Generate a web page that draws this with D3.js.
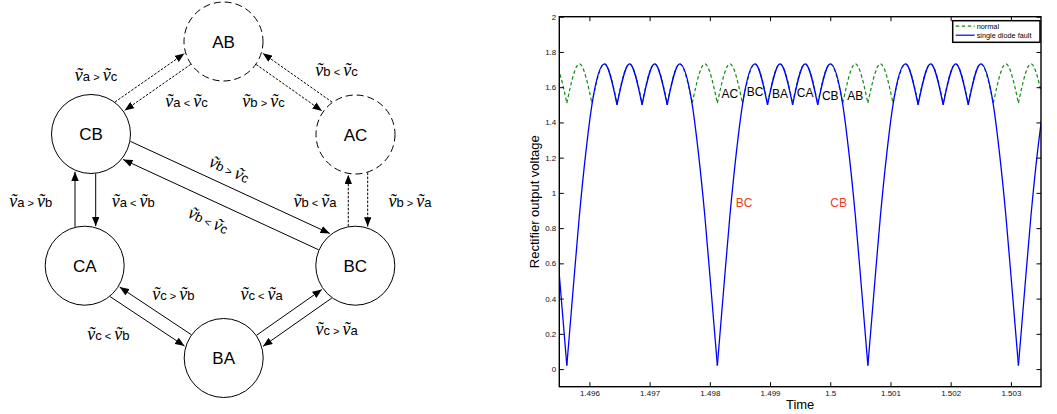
<!DOCTYPE html>
<html>
<head>
<meta charset="utf-8">
<script src="https://cdn.jsdelivr.net/npm/d3@7/dist/d3.min.js"></script>
<style>
	body { margin: 0; background: #fff; }
	text { font-family: 'Liberation Sans', Arial, sans-serif; }
</style>
</head>
<body>
<svg id="fig" width="1057" height="414"></svg>
<script>
// ---- state diagram data ----
const states = [ 'AB', 'CB', 'AC', 'CA', 'BC', 'BA' ],
	dashedStates = [ 'AB', 'AC' ],
	transitions = [
		[ 'CB', 'AB', [ 'a', '>', 'c' ] ],
		[ 'AB', 'CB', [ 'a', '<', 'c' ] ],
		[ 'AC', 'AB', [ 'b', '<', 'c' ] ],
		[ 'AB', 'AC', [ 'b', '>', 'c' ] ],
		[ 'CB', 'BC', [ 'b', '>', 'c' ] ],
		[ 'BC', 'CB', [ 'b', '<', 'c' ] ],
		[ 'CA', 'CB', [ 'a', '>', 'b' ] ],
		[ 'CB', 'CA', [ 'a', '<', 'b' ] ],
		[ 'BC', 'AC', [ 'b', '<', 'a' ] ],
		[ 'AC', 'BC', [ 'b', '>', 'a' ] ],
		[ 'BA', 'CA', [ 'c', '>', 'b' ] ],
		[ 'CA', 'BA', [ 'c', '<', 'b' ] ],
		[ 'BA', 'BC', [ 'c', '<', 'a' ] ],
		[ 'BC', 'BA', [ 'c', '>', 'a' ] ]
	];

// ---- waveform data ----
const timeTicks = [ 1.496, 1.497, 1.498, 1.499, 1.5, 1.501, 1.502, 1.503 ],
	voltageTicks = [ 0, 0.2, 0.4, 0.6, 0.8, 1, 1.2, 1.4, 1.6, 1.8, 2 ];

const normalTime = [
		1.4952083, 1.4954167, 1.495625, 1.4958333, 1.4960417, 1.49625, 1.4964583, 1.4966667,
		1.496875, 1.4970833, 1.4972917, 1.4975, 1.4977083, 1.4979167, 1.498125, 1.4983333,
		1.4985417, 1.49875, 1.4989583, 1.4991667, 1.499375, 1.4995833, 1.4997917, 1.5,
		1.5002083, 1.5004167, 1.500625, 1.5008333, 1.5010417, 1.50125, 1.5014583, 1.5016667,
		1.501875, 1.5020833, 1.5022917, 1.5025, 1.5027083, 1.5029167, 1.503125, 1.5033333,
		1.5035417
	],
	normalValue = [
		1.51, 1.732, 1.51, 1.732, 1.51, 1.732, 1.51, 1.732,
		1.51, 1.732, 1.51, 1.732, 1.51, 1.732, 1.51, 1.732,
		1.51, 1.732, 1.51, 1.732, 1.51, 1.732, 1.51, 1.732,
		1.51, 1.732, 1.51, 1.732, 1.51, 1.732, 1.51, 1.732,
		1.51, 1.732, 1.51, 1.732, 1.51, 1.732, 1.51, 1.732,
		1.51
	];

const faultTime = [
		1.4952083, 1.4953125, 1.4954167, 1.4955208, 1.495625, 1.4957292, 1.4958333, 1.4959375, 1.4960417,
		1.49625, 1.4964583, 1.4966667, 1.496875, 1.4970833, 1.4972917, 1.4975, 1.4977083,
		1.4978125, 1.4979167, 1.4980208, 1.498125, 1.4982292, 1.4983333, 1.4984375, 1.4985417,
		1.49875, 1.4989583, 1.4991667, 1.499375, 1.4995833, 1.4997917, 1.5, 1.5002083,
		1.5003125, 1.5004167, 1.5005208, 1.500625, 1.5007292, 1.5008333, 1.5009375, 1.5010417,
		1.50125, 1.5014583, 1.5016667, 1.501875, 1.5020833, 1.5022917, 1.5025, 1.5027083,
		1.5028125, 1.5029167, 1.5030208, 1.503125, 1.5032292, 1.5033333, 1.5034375, 1.5035417
	],
	faultValue = [
		1.5, 1.22, 0.87, 0.45, 0.02, 0.45, 0.87, 1.22, 1.5,
		1.732, 1.5, 1.732, 1.5, 1.732, 1.5, 1.732, 1.5,
		1.22, 0.87, 0.45, 0.02, 0.45, 0.87, 1.22, 1.5,
		1.732, 1.5, 1.732, 1.5, 1.732, 1.5, 1.732, 1.5,
		1.22, 0.87, 0.45, 0.02, 0.45, 0.87, 1.22, 1.5,
		1.732, 1.5, 1.732, 1.5, 1.732, 1.5, 1.732, 1.5,
		1.22, 0.87, 0.45, 0.02, 0.45, 0.87, 1.22, 1.5
	];

const pairLabels = [ 'AC', 'BC', 'BA', 'CA', 'CB', 'AB' ],
	pairLabelTime = [ 1.4983333, 1.49875, 1.4991667, 1.4995833, 1.5, 1.5004167 ],
	pairLabelValue = [ 1.562, 1.571, 1.562, 1.565, 1.548, 1.552 ],
	faultLabels = [ 'BC', 'CB' ],
	faultLabelTime = [ 1.49857, 1.50014 ],
	faultLabelValue = [ 0.945, 0.945 ];

const svg = d3.select( '#fig' );

// ================= state diagram =================
const nodeR = 39.5,
	nodePos = {
		AB: [ 223.5, 41.5 ], CB: [ 91, 134 ], AC: [ 355.5, 134.5 ],
		CA: [ 84.7, 265.7 ], BC: [ 355.3, 265.7 ], BA: [ 223.7, 358 ]
	},
	// frame pair, optional angle (deg), perpendicular offset, label x/y/rotation
	edgeLayout = [
		{ frame: [ 'CB', 'AB' ], off: -12.5, lx: 96, ly: 76 },
		{ frame: [ 'CB', 'AB' ], off: 0, lx: 186.5, ly: 102 },
		{ frame: [ 'AB', 'AC' ], off: -13, lx: 336.5, ly: 71 },
		{ frame: [ 'AB', 'AC' ], off: 0, lx: 263.5, ly: 102 },
		{ frame: [ 'CB', 'BC' ], ang: 24.8, off: -14.2, lx: 229, ly: 170, rot: 24.8 },
		{ frame: [ 'CB', 'BC' ], ang: 24.8, off: 5.3, lx: 208, ly: 221, rot: 24.8 },
		{ frame: [ 'CB', 'CA' ], ang: 90, off: 12.85, lx: 30.8, ly: 201.7 },
		{ frame: [ 'CB', 'CA' ], ang: 90, off: -7.85, lx: 133.3, ly: 201.7 },
		{ frame: [ 'AC', 'BC' ], ang: 90, off: 7.1, lx: 315, ly: 201.7 },
		{ frame: [ 'AC', 'BC' ], ang: 90, off: -12.3, lx: 410, ly: 201.7 },
		{ frame: [ 'CA', 'BA' ], off: -1.5, lx: 173.3, ly: 295 },
		{ frame: [ 'CA', 'BA' ], off: 11.7, lx: 108.3, ly: 335 },
		{ frame: [ 'BA', 'BC' ], off: 0.25, lx: 261.7, ly: 295 },
		{ frame: [ 'BA', 'BC' ], off: 13, lx: 336.7, ly: 330 }
	];

svg.append( 'defs' )
	.append( 'marker' )
	.attr( 'id', 'head' )
	.attr( 'viewBox', '0 0 10 8' )
	.attr( 'refX', 10 )
	.attr( 'refY', 4 )
	.attr( 'markerWidth', 9.5 )
	.attr( 'markerHeight', 7.5 )
	.attr( 'markerUnits', 'userSpaceOnUse' )
	.attr( 'orient', 'auto' )
	.append( 'path' )
	.attr( 'd', 'M0,0L10,4L0,8Z' )
	.attr( 'fill', '#000' );

const diagram = svg.append( 'g' ).attr( 'class', 'diagram' );

function edgeEnds( from, to, lay ) {
	const a = nodePos[ lay.frame[ 0 ] ],
		b = nodePos[ lay.frame[ 1 ] ];
	let u;
	if ( lay.ang !== undefined ) {
		const r = lay.ang * Math.PI / 180;
		u = [ Math.cos( r ), Math.sin( r ) ];
	} else {
		const len = Math.hypot( b[ 0 ] - a[ 0 ], b[ 1 ] - a[ 1 ] );
		u = [ ( b[ 0 ] - a[ 0 ] ) / len, ( b[ 1 ] - a[ 1 ] ) / len ];
	}
	const n = [ -u[ 1 ], u[ 0 ] ],
		p0 = [ ( a[ 0 ] + b[ 0 ] ) / 2 + lay.off * n[ 0 ], ( a[ 1 ] + b[ 1 ] ) / 2 + lay.off * n[ 1 ] ],
		cf = nodePos[ from ],
		ct = nodePos[ to ],
		along = ( c ) => ( c[ 0 ] - p0[ 0 ] ) * u[ 0 ] + ( c[ 1 ] - p0[ 1 ] ) * u[ 1 ],
		across = ( c ) => ( c[ 0 ] - p0[ 0 ] ) * n[ 0 ] + ( c[ 1 ] - p0[ 1 ] ) * n[ 1 ],
		tf = along( cf ),
		tt = along( ct ),
		s = Math.sign( tt - tf ),
		rs = nodeR + 0.5,
		rt = nodeR + 1.5,
		t0 = tf + s * Math.sqrt( rs * rs - across( cf ) ** 2 ),
		t1 = tt - s * Math.sqrt( rt * rt - across( ct ) ** 2 );
	return [
		[ p0[ 0 ] + t0 * u[ 0 ], p0[ 1 ] + t0 * u[ 1 ] ],
		[ p0[ 0 ] + t1 * u[ 0 ], p0[ 1 ] + t1 * u[ 1 ] ]
	];
}

transitions.forEach( ( [ from, to ], i ) => {
	const ends = edgeEnds( from, to, edgeLayout[ i ] ),
		dashed = dashedStates.includes( from ) || dashedStates.includes( to );
	diagram.append( 'line' )
		.attr( 'x1', ends[ 0 ][ 0 ] )
		.attr( 'y1', ends[ 0 ][ 1 ] )
		.attr( 'x2', ends[ 1 ][ 0 ] )
		.attr( 'y2', ends[ 1 ][ 1 ] )
		.attr( 'stroke', '#000' )
		.attr( 'stroke-width', 1 )
		.attr( 'stroke-dasharray', dashed ? '2.5,1.5' : null )
		.attr( 'marker-end', 'url(#head)' );
} );

diagram.selectAll( 'circle.state' )
	.data( states )
	.join( 'circle' )
	.attr( 'class', 'state' )
	.attr( 'cx', ( d ) => nodePos[ d ][ 0 ] )
	.attr( 'cy', ( d ) => nodePos[ d ][ 1 ] )
	.attr( 'r', nodeR )
	.attr( 'fill', 'none' )
	.attr( 'stroke', '#000' )
	.attr( 'stroke-width', 1 )
	.attr( 'stroke-dasharray', ( d ) => dashedStates.includes( d ) ? '7,4' : null );

diagram.selectAll( 'text.state' )
	.data( states )
	.join( 'text' )
	.attr( 'class', 'state' )
	.attr( 'x', ( d ) => nodePos[ d ][ 0 ] )
	.attr( 'y', ( d ) => nodePos[ d ][ 1 ] + 6 )
	.attr( 'text-anchor', 'middle' )
	.style( 'font-size', '17px' )
	.text( ( d ) => d );

// condition labels like  ṽa > ṽc
transitions.forEach( ( [ , , cond ], i ) => {
	const lay = edgeLayout[ i ],
		t = diagram.append( 'text' )
			.attr( 'transform', `translate(${lay.lx},${lay.ly}) rotate(${lay.rot || 0})` )
			.attr( 'y', 5 )
			.attr( 'text-anchor', 'middle' );
	const vee = ( sel ) => sel.append( 'tspan' )
		.style( 'font-family', "'Liberation Serif', 'Times New Roman', serif" )
		.style( 'font-style', 'italic' )
		.style( 'font-size', '18px' )
		.text( 'v\u0303' );
	const sub = ( sel, s ) => sel.append( 'tspan' )
		.style( 'font-size', '13px' )
		.text( s );
	vee( t );
	sub( t, cond[ 0 ] );
	t.append( 'tspan' ).style( 'font-size', '11px' ).text( '\u00a0' + cond[ 1 ] + '\u00a0' );
	vee( t );
	sub( t, cond[ 2 ] );
} );

// ================= waveform plot =================
const plot = { left: 559.3, right: 1041, top: 16.7, bottom: 386.7 },
	x = d3.scaleLinear().domain( [ 1.4955, 1.5035 ] ).range( [ plot.left, plot.right ] ),
	y = d3.scaleLinear().domain( [ -0.1, 2 ] ).range( [ plot.bottom, plot.top ] );

const chart = svg.append( 'g' ).attr( 'class', 'chart' );

chart.append( 'clipPath' )
	.attr( 'id', 'plotclip' )
	.append( 'rect' )
	.attr( 'x', plot.left )
	.attr( 'y', plot.top )
	.attr( 'width', plot.right - plot.left )
	.attr( 'height', plot.bottom - plot.top );

// cut the trace at every cusp (local minimum) so each arc is smooth between cusps
function pieces( times, values ) {
	const out = [];
	let cur = [ [ times[ 0 ], values[ 0 ] ] ];
	for ( let i = 1; i < times.length; i++ ) {
		cur.push( [ times[ i ], values[ i ] ] );
		if ( i < times.length - 1 && values[ i ] < values[ i - 1 ] && values[ i ] < values[ i + 1 ] ) {
			out.push( cur );
			cur = [ [ times[ i ], values[ i ] ] ];
		}
	}
	out.push( cur );
	return out;
}

const trace = d3.line()
	.x( ( d ) => x( d[ 0 ] ) )
	.y( ( d ) => y( d[ 1 ] ) )
	.curve( d3.curveMonotoneX );

const traces = chart.append( 'g' ).attr( 'clip-path', 'url(#plotclip)' );

traces.selectAll( 'path.normal' )
	.data( pieces( normalTime, normalValue ) )
	.join( 'path' )
	.attr( 'class', 'normal' )
	.attr( 'd', trace )
	.attr( 'fill', 'none' )
	.attr( 'stroke', '#138a13' )
	.attr( 'stroke-width', 1.2 )
	.attr( 'stroke-dasharray', '3.5,2.5' );

traces.selectAll( 'path.fault' )
	.data( pieces( faultTime, faultValue ) )
	.join( 'path' )
	.attr( 'class', 'fault' )
	.attr( 'd', trace )
	.attr( 'fill', 'none' )
	.attr( 'stroke', '#0000ff' )
	.attr( 'stroke-width', 1.3 );

const styleAxis = ( g, size ) => {
	g.select( '.domain' ).remove();
	g.selectAll( '.tick line' ).attr( 'stroke', '#000' );
	g.selectAll( 'text' ).style( 'font-size', size ).attr( 'fill', '#111' );
};

chart.append( 'g' )
	.attr( 'transform', `translate(0,${plot.bottom})` )
	.call( d3.axisBottom( x ).tickValues( timeTicks ).tickSize( -4.5 ).tickPadding( 4 ).tickFormat( d3.format( '.3~f' ) ) )
	.call( styleAxis, '8px' );

chart.append( 'g' )
	.attr( 'transform', `translate(0,${plot.top})` )
	.call( d3.axisTop( x ).tickValues( timeTicks ).tickSize( -4.5 ).tickFormat( '' ) )
	.call( styleAxis, '8px' );

chart.append( 'g' )
	.attr( 'transform', `translate(${plot.left},0)` )
	.call( d3.axisLeft( y ).tickValues( voltageTicks ).tickSize( -4.5 ).tickPadding( 3 ).tickFormat( d3.format( '.1~f' ) ) )
	.call( styleAxis, '8px' );

chart.append( 'g' )
	.attr( 'transform', `translate(${plot.right},0)` )
	.call( d3.axisRight( y ).tickValues( voltageTicks ).tickSize( -4.5 ).tickFormat( '' ) )
	.call( styleAxis, '8px' );

chart.append( 'rect' )
	.attr( 'x', plot.left )
	.attr( 'y', plot.top )
	.attr( 'width', plot.right - plot.left )
	.attr( 'height', plot.bottom - plot.top )
	.attr( 'fill', 'none' )
	.attr( 'stroke', '#000' )
	.attr( 'stroke-width', 1.4 );

chart.selectAll( 'text.pair' )
	.data( pairLabels )
	.join( 'text' )
	.attr( 'class', 'pair' )
	.attr( 'x', ( d, i ) => x( pairLabelTime[ i ] ) )
	.attr( 'y', ( d, i ) => y( pairLabelValue[ i ] ) )
	.attr( 'text-anchor', 'middle' )
	.attr( 'dominant-baseline', 'central' )
	.style( 'font-size', '12px' )
	.text( ( d ) => d );

chart.selectAll( 'text.faultpair' )
	.data( faultLabels )
	.join( 'text' )
	.attr( 'class', 'faultpair' )
	.attr( 'x', ( d, i ) => x( faultLabelTime[ i ] ) )
	.attr( 'y', ( d, i ) => y( faultLabelValue[ i ] ) )
	.attr( 'text-anchor', 'middle' )
	.attr( 'dominant-baseline', 'central' )
	.attr( 'fill', '#e8401c' )
	.style( 'font-size', '12px' )
	.text( ( d ) => d );

chart.append( 'text' )
	.attr( 'transform', `translate(539,${( plot.top + plot.bottom ) / 2}) rotate(-90)` )
	.attr( 'text-anchor', 'middle' )
	.style( 'font-size', '13px' )
	.text( 'Rectifier output voltage' );

chart.append( 'text' )
	.attr( 'x', ( plot.left + plot.right ) / 2 )
	.attr( 'y', 409 )
	.attr( 'text-anchor', 'middle' )
	.style( 'font-size', '13px' )
	.text( 'Time' );

// legend
const legend = chart.append( 'g' ).attr( 'transform', 'translate(952.7,20.7)' );
legend.append( 'rect' )
	.attr( 'width', 87.3 )
	.attr( 'height', 21.6 )
	.attr( 'fill', '#fff' )
	.attr( 'stroke', '#000' )
	.attr( 'stroke-width', 1.5 );
[ [ 'normal', '#138a13', '3.5,2.5' ], [ 'single diode fault', '#0000ff', null ] ].forEach( ( [ name, col, dash ], i ) => {
	const ly = 5.5 + i * 9;
	legend.append( 'line' )
		.attr( 'x1', 3 )
		.attr( 'x2', 22 )
		.attr( 'y1', ly )
		.attr( 'y2', ly )
		.attr( 'stroke', col )
		.attr( 'stroke-width', 1.2 )
		.attr( 'stroke-dasharray', dash );
	legend.append( 'text' )
		.attr( 'x', 24 )
		.attr( 'y', ly + 2.5 )
		.style( 'font-size', '7.3px' )
		.text( name );
} );
</script>
</body>
</html>
